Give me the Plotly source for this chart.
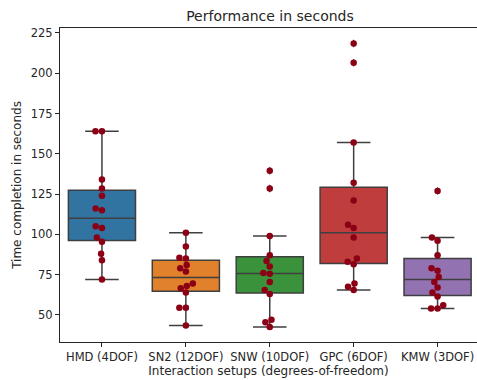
import numpy as np
import plotly.graph_objects as go

categories = ["HMD (4DOF)", "SN2 (12DOF)", "SNW (10DOF)", "GPC (6DOF)", "KMW (3DOF)"]
hmd = [164, 164, 134, 128.5, 124, 116, 115, 105, 104, 98, 95.5, 88, 84, 72]
sn2 = [101, 92.5, 85.5, 85, 81, 79, 77, 69.5, 68, 66.5, 64, 54.5, 54.5, 43.5]
snw = [139.5, 128.5, 99, 87, 83.5, 80, 76, 75.5, 70.5, 65.5, 63, 47, 45.5, 42.5]
gpc = [218.5, 206.5, 157, 132, 121, 106, 104, 98, 85, 83, 81.5, 69.5, 67.5, 65.5]
kmw = [127, 98, 96, 87, 79, 77.5, 73.5, 70.5, 67, 64, 61.5, 56, 54, 54]
series = [hmd, sn2, snw, gpc, kmw]
colors = ["#3274a1", "#e1812c", "#3a923a", "#c03d3e", "#9372b2"]
y_ticks = [50, 75, 100, 125, 150, 175, 200, 225]

W, H = 477, 380
ML, MR, MT, MB = 60, 0, 28, 38
XR = [-0.5, 4.47]
YR = [33.2, 228.1]
px_x = (W - ML - MR) / (XR[1] - XR[0])
px_y = (H - MT - MB) / (YR[1] - YR[0])
DOT = 6.5


def swarm(vals, d=DOT):
    vals = np.asarray(vals, float)
    order = np.argsort(vals, kind="stable")
    placed = []
    offs = np.zeros(len(vals))
    for i in order:
        y = vals[i] * px_y
        cands = [0.0]
        for xj, yj in placed:
            dy = abs(y - yj)
            if dy < d:
                dx = np.sqrt(d * d - dy * dy)
                cands += [xj - dx, xj + dx]
        cands = sorted(cands, key=lambda c: abs(c))
        chosen = cands[-1]
        for c in cands:
            if all((c - xj) ** 2 + (y - yj) ** 2 >= d * d - 1e-6 for xj, yj in placed):
                chosen = c
                break
        placed.append((chosen, y))
        offs[i] = chosen / px_x
    return offs


fig = go.Figure()
for i, (vals, col) in enumerate(zip(series, colors)):
    v = np.asarray(vals, float)
    q1, med, q3 = np.percentile(v, [25, 50, 75])
    iqr = q3 - q1
    lo = v[v >= q1 - 1.5 * iqr].min()
    hi = v[v <= q3 + 1.5 * iqr].max()
    fig.add_trace(go.Box(
        x=[i], q1=[q1], median=[med], q3=[q3], lowerfence=[lo], upperfence=[hi],
        width=0.8, whiskerwidth=0.5, fillcolor=col, boxpoints=False,
        line=dict(color="#3f3f3f", width=1.5), showlegend=False, hoverinfo="skip"))
    out = v[(v < lo) | (v > hi)]
    if len(out):
        fig.add_trace(go.Scatter(
            x=[i] * len(out), y=out, mode="markers", showlegend=False,
            marker=dict(symbol="diamond-tall", size=6, color="#3f3f3f")))

for i, vals in enumerate(series):
    offs = swarm(vals)
    fig.add_trace(go.Scatter(
        x=i + offs, y=vals, mode="markers", showlegend=False,
        marker=dict(size=DOT, color="#8b0014", line=dict(width=0))))

axis_common = dict(showline=True, linecolor="#262626", linewidth=1, mirror=True,
                   ticks="outside", ticklen=4, tickcolor="#262626", tickwidth=1,
                   showgrid=False, zeroline=False, automargin=False,
                   tickfont=dict(family="DejaVu Sans", size=11.5, color="#262626"))

fig.update_layout(
    width=W, height=H,
    margin=dict(l=ML, r=MR, t=MT, b=MB),
    plot_bgcolor="white", paper_bgcolor="white",
    font=dict(family="DejaVu Sans", color="#262626"),
    title=dict(text="Performance in seconds", x=0.566, xanchor="center",
               y=1 - 16 / H, yanchor="middle", yref="container",
               font=dict(family="DejaVu Sans", size=14, color="#262626")),
    xaxis=dict(range=XR, tickmode="array", tickvals=list(range(len(categories))),
               ticktext=categories,
               title=dict(text="Interaction setups (degrees-of-freedom)", standoff=2,
                          font=dict(family="DejaVu Sans", size=12, color="#262626")),
               **axis_common),
    yaxis=dict(range=YR, tickmode="array", tickvals=y_ticks,
               title=dict(text="Time completion in seconds", standoff=6,
                          font=dict(family="DejaVu Sans", size=12, color="#262626")),
               **axis_common),
)

fig.write_html("out.html", config={"displayModeBar": False},
               post_script="document.body.style.margin='0';document.body.style.overflow='hidden';")
